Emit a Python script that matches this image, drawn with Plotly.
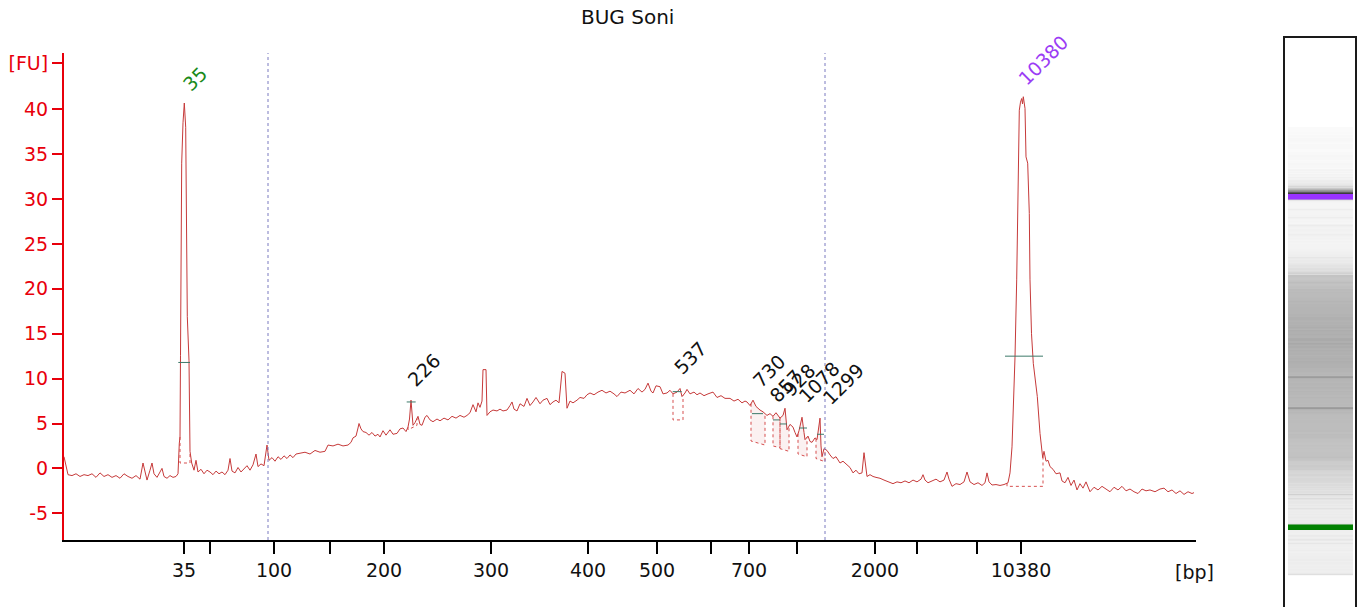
import plotly.graph_objects as go
import numpy as np

# ---------------- data ----------------
title_text = "BUG Soni"

# size ladder (bp) and migration time (s) of each ladder band
ladder_bp = ["35", "50", "100", "150", "200", "300", "400", "500", "600", "700",
             "1000", "2000", "3000", "7000", "10380"]
ladder_time = [32.0, 34.6, 41.0, 46.6, 52.0, 62.7, 72.4, 79.3, 84.7, 88.5,
               93.3, 101.1, 105.3, 111.3, 115.7]
ladder_shown = ["35", "", "100", "", "200", "300", "400", "500", "", "700",
                "", "2000", "", "", "10380"]

fu_ticks = [-5, 0, 5, 10, 15, 20, 25, 30, 35, 40]
fu_unit_tick = 45.15

# region-of-interest borders (s)
region_time = [40.4, 96.1]

# electropherogram trace: time (s), fluorescence (FU)
trace_time = [
    20.0, 20.2, 20.4, 20.8, 21.2, 21.6, 22.0, 22.4, 22.8, 23.2, 23.6, 24.0, 24.4, 24.8, 25.2, 25.6,
    26.0, 26.4, 26.8, 27.2, 27.6, 27.9, 28.1, 28.3, 28.6, 28.8, 29.0, 29.3, 29.6, 29.8, 30.0, 30.3,
    30.6, 30.9, 31.2, 31.4, 31.53, 31.6, 31.65, 31.77, 31.9, 32.03, 32.17, 32.25, 32.33, 32.5, 32.53,
    32.6, 32.77, 33.0, 33.2, 33.4, 33.7, 34.0, 34.3, 34.6, 34.9, 35.2, 35.5, 35.8, 36.1, 36.4, 36.6,
    36.8, 37.1, 37.4, 37.7, 38.0, 38.3, 38.6, 38.9, 39.2, 39.4, 39.7, 40.0, 40.3, 40.5, 40.8, 41.1,
    41.4, 41.7, 42.0, 42.3, 42.6, 42.9, 43.2, 43.6, 44.1, 44.6, 45.1, 45.6, 46.1, 46.4, 46.9, 47.4,
    47.9, 48.4, 48.7, 48.9, 49.2, 49.4, 49.5, 49.7, 49.9, 50.2, 50.5, 50.8, 51.1, 51.4, 51.6, 51.9,
    52.2, 52.6, 52.9, 53.3, 53.6, 53.9, 54.2, 54.4, 54.55, 54.7, 54.85, 54.9, 55.1, 55.4, 55.6, 55.8,
    56.1, 56.3, 56.6, 56.9, 57.3, 57.6, 58.0, 58.4, 58.8, 59.2, 59.6, 60.0, 60.3, 60.6, 60.9, 61.2,
    61.4, 61.6, 61.8, 61.9, 62.2, 62.3, 62.6, 62.9, 63.3, 63.6, 63.9, 64.3, 64.6, 64.8, 65.0, 65.3,
    65.6, 66.0, 66.3, 66.6, 66.9, 67.2, 67.6, 67.9, 68.3, 68.6, 68.9, 69.2, 69.5, 69.8, 70.1, 70.3,
    70.6, 70.9, 71.3, 71.6, 72.0, 72.3, 72.6, 73.0, 73.4, 73.8, 74.2, 74.6, 75.0, 75.3, 75.7, 76.1,
    76.6, 77.0, 77.4, 77.8, 78.1, 78.4, 78.7, 78.9, 79.2, 79.6, 79.9, 80.3, 80.6, 80.9, 81.3, 81.6,
    81.8, 82.1, 82.3, 82.6, 83.0, 83.3, 83.6, 84.0, 84.4, 84.9, 85.3, 85.7, 86.1, 86.6, 87.0, 87.4,
    87.8, 88.1, 88.3, 88.6, 88.9, 89.2, 89.6, 89.9, 90.3, 90.6, 90.9, 91.2, 91.6, 91.9, 92.1, 92.3,
    92.6, 92.9, 93.1, 93.3, 93.5, 93.7, 93.8, 94.0, 94.1, 94.4, 94.6, 94.8, 95.1, 95.3, 95.5, 95.6,
    95.7, 95.8, 96.0, 96.3, 96.6, 96.9, 97.2, 97.6, 97.9, 98.3, 98.6, 98.9, 99.2, 99.5, 99.8, 100.0,
    100.15, 100.3, 100.6, 100.9, 101.2, 101.6, 102.0, 102.4, 102.9, 103.3, 103.7, 104.1, 104.5, 104.9,
    105.3, 105.7, 105.9, 106.1, 106.4, 106.8, 107.2, 107.6, 108.0, 108.3, 108.5, 108.8, 109.2, 109.6,
    110.0, 110.3, 110.6, 111.0, 111.4, 111.8, 112.1, 112.3, 112.5, 112.8, 113.2, 113.6, 114.0, 114.4,
    114.6, 114.8, 115.1, 115.27, 115.43, 115.53, 115.65, 115.77, 115.85, 115.93, 116.1, 116.2, 116.37,
    116.53, 116.6, 116.75, 116.93, 117.33, 117.6, 117.87, 118.0, 118.2, 118.4, 118.6, 118.9, 119.2,
    119.6, 119.8, 120.1, 120.4, 120.7, 121.0, 121.3, 121.6, 121.9, 122.2, 122.6, 123.0, 123.4, 123.8,
    124.2, 124.6, 125.0, 125.4, 125.8, 126.2, 126.6, 127.0, 127.4, 127.8, 128.2, 128.6, 129.1, 129.6,
    130.0, 130.4, 130.8, 131.2, 131.6, 132.0, 132.4, 132.8, 133.0]
trace_fu = [
    1.3, 0.2, -0.7, -0.8, -0.6, -0.9, -0.7, -0.8, -0.6, -1.0, -0.5, -0.9, -0.7, -1.0, -0.8, -1.1,
    -0.6, -0.9, -1.1, -0.8, -1.2, 0.6, -0.5, -1.3, -0.2, 0.6, -0.6, -1.0, -0.4, 0.0, -0.9, -1.1,
    -0.8, -1.0, -0.9, -0.6, 2.8, 3.5, 12.6, 34.0, 38.5, 40.7, 38.0, 27.0, 16.9, 12.0, 2.0,
    1.9, 0.6, -0.2, 0.9, -0.4, -0.1, -0.6, -0.2, -0.4, -0.7, -0.3, -0.6, -0.4, -0.7, -0.2, 1.1,
    -0.3, -0.5, 0.1, -0.4, 0.0, 0.3, -0.2, 0.4, 1.6, 0.2, 0.5, 0.3, 2.6, 0.9, 1.2, 0.8,
    1.3, 1.0, 1.4, 1.1, 1.5, 1.2, 1.6, 1.7, 1.8, 1.6, 2.0, 1.8, 1.9, 2.6, 2.5, 2.7,
    2.5, 2.6, 2.9, 3.4, 3.6, 4.5, 5.0, 4.4, 4.1, 4.0, 3.7, 4.0, 3.6, 3.8, 3.5, 4.2,
    3.7, 4.3, 3.8, 3.9, 4.4, 4.5, 4.1, 4.6, 5.5, 7.6, 5.5, 4.8, 5.1, 5.8, 4.9, 4.8,
    5.7, 5.9, 5.4, 5.2, 5.5, 5.3, 5.6, 5.4, 5.8, 5.6, 5.9, 5.7, 5.9, 6.2, 7.1, 6.3,
    7.3, 6.8, 7.5, 11.0, 11.0, 5.9, 6.3, 6.5, 6.4, 6.6, 6.4, 6.5, 7.0, 7.4, 6.6, 6.4,
    7.2, 6.9, 7.8, 7.0, 7.4, 7.9, 7.2, 7.6, 7.8, 7.1, 7.4, 7.6, 7.3, 10.8, 10.6, 6.7,
    7.5, 7.3, 7.6, 7.9, 7.8, 8.2, 8.4, 8.2, 8.5, 8.7, 8.4, 8.6, 8.3, 8.0, 8.5, 8.4,
    8.7, 8.3, 8.9, 8.5, 8.8, 9.5, 8.6, 8.4, 9.2, 9.1, 8.3, 8.4, 8.7, 8.3, 8.5, 8.9,
    8.0, 8.4, 8.8, 8.3, 8.5, 8.2, 8.4, 8.1, 8.3, 8.5, 7.9, 8.1, 7.8, 7.8, 7.5, 7.7,
    7.3, 7.5, 7.4, 7.0, 7.6, 6.9, 6.5, 6.3, 5.9, 6.1, 5.8, 6.2, 5.6, 5.9, 6.7, 4.3,
    4.9, 4.6, 4.0, 3.5, 4.2, 5.0, 5.7, 4.0, 3.2, 3.6, 3.0, 2.9, 3.4, 3.2, 4.5, 5.6,
    2.5, 1.3, 2.2, 2.0, 1.5, 1.1, 1.3, 0.6, 0.8, 0.4, 0.1, -0.5, -0.2, -0.6, -0.5, 1.75,
    0.5, -0.9, -0.7, -0.9, -1.0, -1.1, -1.3, -1.5, -1.7, -1.5, -1.6, -1.4, -1.6, -1.3,
    -1.5, -1.2, -0.7, -1.3, -1.6, -1.4, -1.2, -1.5, -1.3, -0.4, -1.2, -2.0, -1.7, -1.8,
    -1.5, -0.4, -1.5, -1.8, -1.6, -1.9, -1.6, -0.5, -1.5, -1.85, -1.8, -1.9, -1.8, -1.6,
    -0.5, 2.4, 12.4, 21.0, 32.9, 39.9, 40.8, 41.2, 40.6, 41.4, 40.1, 34.7, 34.0,
    28.4, 21.0, 15.0, 11.7, 8.0, 3.9, 1.2, 1.9, 0.8, 0.9, 0.2, -0.1, -0.6,
    -0.5, -1.4, -1.6, -1.0, -1.9, -1.3, -2.4, -1.7, -2.2, -1.5, -2.6, -2.1, -2.4, -2.0,
    -2.3, -2.6, -2.1, -2.4, -2.0, -2.5, -2.3, -2.6, -2.8, -2.3, -2.5, -2.4, -2.6, -2.3,
    -2.2, -2.6, -2.4, -2.8, -2.5, -2.9, -2.6, -2.8, -2.7]

# called peaks
peak_label = ["35", "226", "537", "730", "857", "928", "1078", "1299", "10380"]
peak_kind = ["lower", "peak", "peak", "peak", "peak", "peak", "peak", "peak", "upper"]
peak_time = [32.03, 54.7, 81.27, 89.3, 91.25, 91.95, 93.9, 95.65, 115.85]
peak_fu = [40.7, 7.6, 8.5, 6.1, 5.4, 4.95, 4.5, 3.8, 41.4]
# peak marker bar (level, start, end)
mark_fu = [11.8, 7.4, 8.55, 6.1, 5.4, 4.95, 4.5, 3.8, 12.5]
mark_t0 = [31.43, 54.27, 80.87, 88.8, 90.9, 91.6, 93.5, 95.3, 114.1]
mark_t1 = [32.6, 55.17, 81.77, 89.9, 91.6, 92.3, 94.3, 96.0, 117.9]
# integration baseline (start, end)
base_t0 = [31.6, 54.4, 80.9, 88.7, 90.9, 91.6, 93.4, 95.2, 114.3]
base_t1 = [32.6, 55.3, 81.9, 90.1, 91.6, 92.5, 94.3, 96.1, 117.9]
base_fu0 = [0.6, 4.3, 5.4, 3.05, 2.5, 2.2, 1.6, 1.1, -2.0]
base_fu1 = [0.6, 4.8, 5.4, 2.6, 2.3, 1.9, 1.3, 0.75, -2.0]

# gel-image marker bands
gel_marker_time = [31.95, 115.5]
gel_marker_kind = ["lower", "upper"]

# ---------------- styles / layout ----------------
FONT = "DejaVu Sans"
TRACE_COLOR = "rgb(198,58,58)"
AXIS_RED = "#e8000b"
KIND_COLOR = {"lower": "#1a8a1a", "upper": "#9b3cf5", "peak": "#111111"}
GEL_BAND_COLOR = {"lower": "#008000", "upper": "#9933ff"}
label_pos_t = [31.3, 53.8, 80.4, 88.3, 90.0, 91.3, 92.9, 95.3, 114.9]
label_pos_fu = [41.4, 8.5, 9.9, 8.4, 6.7, 7.4, 6.7, 6.5, 42.1]

W, H = 1361, 607
px = lambda v: v / W
py = lambda v: 1 - v / H

fig = go.Figure()

tt = np.array(trace_time)
tf = np.array(trace_fu)

# faint shading of the smear peaks between trace and integration baseline
for i in range(len(peak_label)):
    if peak_kind[i] != "peak" or i < 3:
        continue
    sel = (tt > base_t0[i]) & (tt < base_t1[i])
    xs = [base_t0[i]] + list(tt[sel]) + [base_t1[i]]
    ys = [float(np.interp(base_t0[i], tt, tf))] + list(tf[sel]) + [float(np.interp(base_t1[i], tt, tf))]
    bx = [base_t1[i], base_t0[i]]
    by = [base_fu1[i], base_fu0[i]]
    fig.add_trace(go.Scatter(x=xs + bx, y=ys + by, mode="lines", fill="toself",
                             fillcolor="rgba(220,120,120,0.10)", line=dict(width=0),
                             hoverinfo="skip"))

# trace
fig.add_trace(go.Scatter(x=trace_time, y=trace_fu, mode="lines",
                         line=dict(color=TRACE_COLOR, width=1), hoverinfo="skip",
                         xaxis="x", yaxis="y"))

for i in range(len(peak_label)):
    # baseline box (dotted)
    top0 = float(np.interp(base_t0[i], tt, tf))
    top1 = float(np.interp(base_t1[i], tt, tf))
    fig.add_trace(go.Scatter(x=[base_t0[i], base_t0[i], base_t1[i], base_t1[i]],
                             y=[top0, base_fu0[i], base_fu1[i], top1], mode="lines",
                             line=dict(color="rgba(210,60,60,0.9)", width=1, dash="dot"),
                             hoverinfo="skip"))
    # marker bar
    fig.add_trace(go.Scatter(x=[mark_t0[i], mark_t1[i]], y=[mark_fu[i], mark_fu[i]],
                             mode="lines", line=dict(color="#3d7a6a", width=1),
                             hoverinfo="skip"))

annotations = []
for i in range(len(peak_label)):
    annotations.append(dict(x=label_pos_t[i], y=label_pos_fu[i], xref="x", yref="y",
                            text=peak_label[i], showarrow=False, textangle=-45,
                            xanchor="left", yanchor="bottom", borderpad=0,
                            font=dict(family=FONT, size=19, color=KIND_COLOR[peak_kind[i]])))

annotations.append(dict(x=px(627), y=py(17), xref="paper", yref="paper", text=title_text,
                        showarrow=False, xanchor="center", yanchor="middle",
                        font=dict(family=FONT, size=20, color="#111")))
annotations.append(dict(x=px(1194), y=py(572), xref="paper", yref="paper", text="[bp]",
                        showarrow=False, xanchor="center", yanchor="middle",
                        font=dict(family=FONT, size=19, color="#111")))

shapes = []
for t in region_time:
    shapes.append(dict(type="line", xref="x", yref="y domain", x0=t, x1=t, y0=0, y1=1,
                       line=dict(color="#7a7ac0", width=1, dash="dot")))

# gel image from the trace
fig.add_trace(go.Heatmap(x=[0], y=trace_time, z=[[v] for v in trace_fu],
                         xaxis="x2", yaxis="y2", showscale=False, hoverinfo="skip",
                         zmin=-3, zmax=42,
                         colorscale=[[0, "#fcfcfc"], [0.0444, "#f0f0f0"], [0.0889, "#e2e2e2"],
                                     [0.1333, "#c6c6c6"], [0.2444, "#b4b4b4"],
                                     [0.3111, "#9a9a9a"], [1, "#1a1a1a"]]))
for t, k in zip(gel_marker_time, gel_marker_kind):
    shapes.append(dict(type="rect", xref="x2", yref="y2", x0=-0.5, x1=0.5,
                       y0=t - 0.7, y1=t + 0.7, fillcolor=GEL_BAND_COLOR[k],
                       line=dict(width=0)))
shapes.append(dict(type="rect", xref="paper", yref="paper", x0=px(1284), x1=px(1356),
                   y0=-0.1, y1=py(37), line=dict(color="#1a1a1a", width=2)))

fig.update_layout(
    width=W, height=H, margin=dict(l=0, r=0, t=0, b=0),
    paper_bgcolor="white", plot_bgcolor="white", showlegend=False,
    font=dict(family=FONT),
    xaxis=dict(domain=[px(64), px(1196)], range=[20.0, 133.2], showline=True,
               linecolor="black", linewidth=2, ticks="outside", ticklen=12, tickwidth=2,
               tickcolor="black", tickvals=ladder_time, ticktext=ladder_shown,
               tickfont=dict(family=FONT, size=19, color="#111"), showgrid=False,
               zeroline=False, anchor="y"),
    yaxis=dict(domain=[py(540), py(53)], range=[-7.976, 46.27], showline=True,
               linecolor=AXIS_RED, linewidth=2, ticks="outside", ticklen=10, tickwidth=2,
               tickcolor=AXIS_RED, tickvals=fu_ticks + [fu_unit_tick],
               ticktext=[str(v) for v in fu_ticks] + ["[FU]"],
               tickfont=dict(family=FONT, size=19, color=AXIS_RED), showgrid=False,
               zeroline=False, anchor="x"),
    xaxis2=dict(domain=[px(1288), px(1353)], range=[-0.5, 0.5], visible=False,
                anchor="y2"),
    yaxis2=dict(domain=[0, py(37)], range=[11.77, 155.9], visible=False, anchor="x2"),
    annotations=annotations, shapes=shapes,
)

fig.write_html("out.html", config={"displayModeBar": False},
               post_script="document.body.style.margin='0';document.body.style.overflow='hidden';")
